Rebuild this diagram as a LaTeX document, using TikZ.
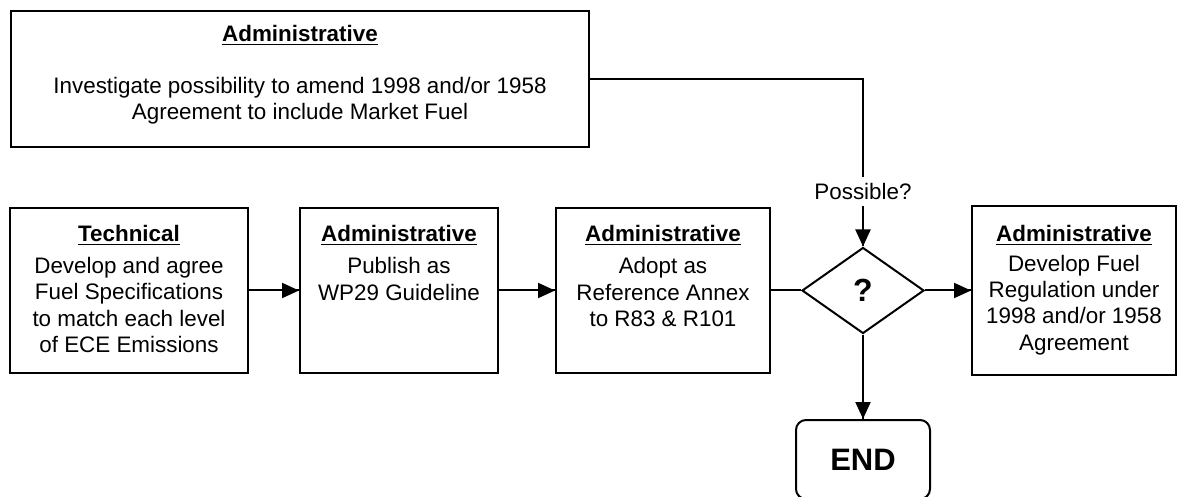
\documentclass[tikz,border=0pt]{standalone}
\usepackage{fontspec}
\setmainfont{Liberation Sans}
\usetikzlibrary{shapes.geometric,arrows.meta,decorations.markings,positioning}

\begin{document}
\begin{tikzpicture}[x=0.5pt, y=-0.5pt, line width=1pt,
  box/.style={draw, rectangle, minimum height=82.5pt, inner sep=0pt},
  heading/.style={font=\fontsize{11.2}{13.2}\selectfont\bfseries, inner sep=0pt},
  body/.style={font=\fontsize{11.2}{13.2}\selectfont, align=center, inner sep=0pt},
  decision/.style={draw, diamond, minimum width=61pt, minimum height=43pt, inner sep=0pt, font=\fontsize{16}{18}\selectfont\bfseries},
  endbox/.style={draw, rounded corners=5pt, minimum width=67pt, minimum height=39.5pt, font=\fontsize{15.5}{18}\selectfont\bfseries},
  flow/.style={decoration={markings,mark=at position 1 with {\arrow{Triangle[length=8.5pt,width=7.5pt]}}},postaction={decorate}}]
\useasboundingbox (0,0) rectangle (1178,497);

\node (admin) [box, minimum width=289pt, minimum height=68pt] at (300,79) {};
\node (adminT) [heading] at ([yshift=-12.5pt]admin.north) {\underline{Administrative}};
\node (adminB) [body] at ([yshift=-45.25pt]admin.north) {Investigate possibility to amend 1998 and/or 1958\\Agreement to include Market Fuel};

\node (tech) [box, minimum width=119pt] at (129,290.5) {};
\node (pub) [box, minimum width=99pt, right of = tech, node distance=135pt] {};
\node (adopt) [box, minimum width=107pt, right of = pub, node distance=132pt] {};
\node (dec) [decision, right of = adopt, node distance=100pt] {?};
\node (reg) [box, minimum width=102pt, minimum height=84pt, right of = dec, node distance=105.5pt] {};
\node (stop) [endbox, below of = dec, node distance=84.5pt] {END};
\node (poss) [body, inner sep=2.5pt, fill=white, above of = dec, node distance=49.5pt] {Possible?};

\node (techT) [heading] at ([yshift=-14pt]tech.north) {\underline{Technical}};
\node (techB) [body] at ([yshift=-49pt]tech.north) {Develop and agree\\Fuel Specifications\\to match each level\\of ECE Emissions};
\node (pubT) [heading] at ([yshift=-14pt]pub.north) {\underline{Administrative}};
\node (pubB) [body] at ([yshift=-36pt]pub.north) {Publish as\\WP29 Guideline};
\node (adoptT) [heading] at ([yshift=-14pt]adopt.north) {\underline{Administrative}};
\node (adoptB) [body] at ([yshift=-42.5pt]adopt.north) {Adopt as\\Reference Annex\\to R83 \& R101};
\node (regT) [heading] at ([yshift=-14.75pt]reg.north) {\underline{Administrative}};
\node (regB) [body] at ([yshift=-49.75pt]reg.north) {Develop Fuel\\Regulation under\\1998 and/or 1958\\Agreement};

\draw (admin.east) -| (poss.north);
\draw[flow] (poss.south) -- (dec.north);
\draw[flow] (tech) -- (pub);
\draw[flow] (pub) -- (adopt);
\draw (adopt) -- (dec);
\draw[flow] (dec) -- (reg);
\draw[flow] (dec) -- (stop);
\end{tikzpicture}
\end{document}
